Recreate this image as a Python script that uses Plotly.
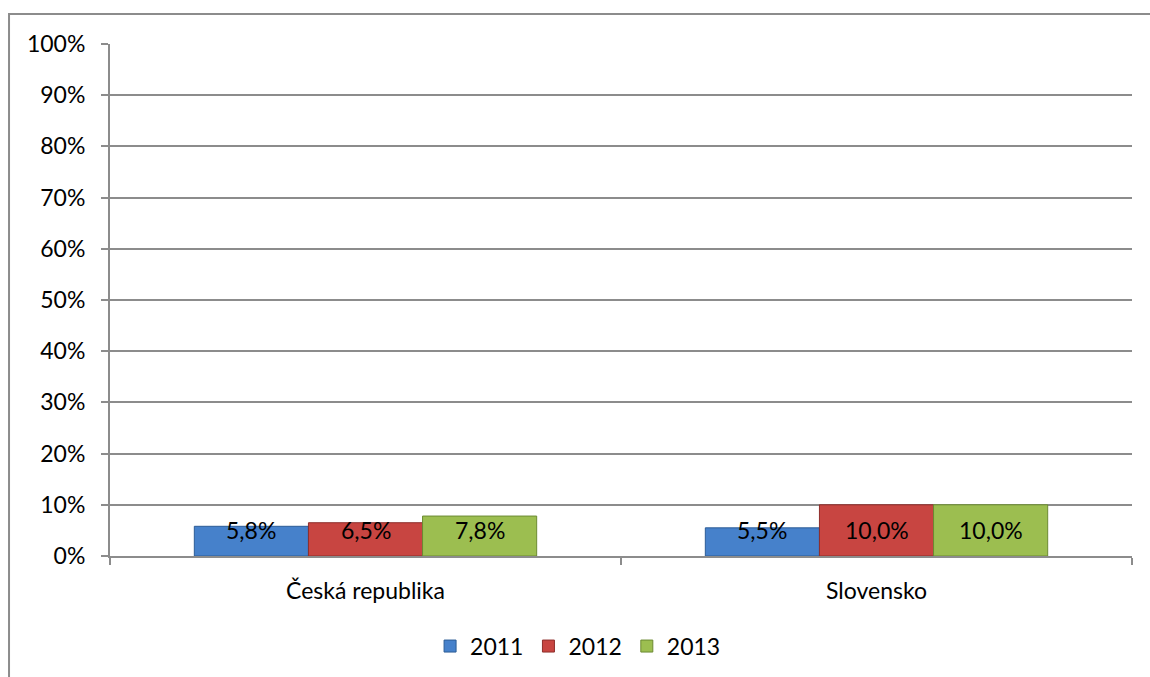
import plotly.graph_objects as go

categories = ["Česká republika", "Slovensko"]
years = ["2011", "2012", "2013"]
values_2011 = [5.8, 5.5]
values_2012 = [6.5, 10.0]
values_2013 = [7.8, 10.0]
y_ticks = [0, 10, 20, 30, 40, 50, 60, 70, 80, 90, 100]

series = [
    ("2011", values_2011, "#4681CB", "#2C5C96"),
    ("2012", values_2012, "#C84541", "#8E2E2B"),
    ("2013", values_2013, "#9CBE50", "#6C8A32"),
]

FONT = "Lato, 'Open Sans', sans-serif"
FS = 23
GRID = "#8C8C8C"
BARGAP = 0.33
bar_w = (1 - BARGAP) / len(series)
LABEL_MIN_Y = 5.0  # keeps labels of short bars clear of the axis line

fig = go.Figure()
annotations = []
for k, (name, vals, color, edge) in enumerate(series):
    fig.add_trace(go.Bar(
        name=name,
        x=categories,
        y=vals,
        marker=dict(color=color, line=dict(color=edge, width=1)),
        hoverinfo="skip",
    ))
    # value labels centred on each bar
    for i, v in enumerate(vals):
        annotations.append(dict(
            x=i + (k - 1) * bar_w,
            y=max(v / 2, LABEL_MIN_Y),
            xref="x", yref="y",
            text=f"{v:.1f}%".replace(".", ","),
            showarrow=False,
            font=dict(family=FONT, size=FS, color="black"),
            xanchor="center", yanchor="middle",
        ))

fig.update_layout(
    width=1150,
    height=677,
    margin=dict(l=110, r=18, t=44, b=121, autoexpand=False),
    paper_bgcolor="white",
    plot_bgcolor="white",
    barmode="group",
    bargap=BARGAP,
    bargroupgap=0,
    font=dict(family=FONT, size=FS, color="black"),
    showlegend=True,
    legend=dict(
        orientation="h",
        x=0.458, xanchor="center",
        y=-0.176, yanchor="middle",
        font=dict(family=FONT, size=FS),
        itemwidth=30,
        traceorder="normal",
    ),
    annotations=annotations,
    xaxis=dict(
        automargin=False,
        showgrid=False,
        showline=True,
        linecolor=GRID,
        linewidth=2,
        ticks="outside",
        tickson="boundaries",
        ticklen=7,
        tickcolor=GRID,
        tickwidth=2,
        ticklabelstandoff=13,
        tickfont=dict(family=FONT, size=FS),
    ),
    yaxis=dict(
        automargin=False,
        range=[0, 100],
        tickvals=y_ticks,
        ticktext=[f"{t}%" for t in y_ticks],
        showgrid=True,
        gridcolor=GRID,
        gridwidth=1.5,
        showline=True,
        linecolor=GRID,
        linewidth=2,
        ticks="outside",
        ticklen=7,
        tickcolor=GRID,
        tickwidth=2,
        zeroline=False,
        ticklabelstandoff=11,
        tickfont=dict(family=FONT, size=FS),
    ),
    shapes=[
        dict(
            type="rect",
            xref="paper", yref="paper",
            x0=-0.0988, x1=1.2,
            y0=-0.5, y1=1.0586,
            line=dict(color="#8C8C8C", width=2),
            fillcolor="rgba(0,0,0,0)",
            layer="below",
        )
    ],
)

fig.write_html("out.html")
